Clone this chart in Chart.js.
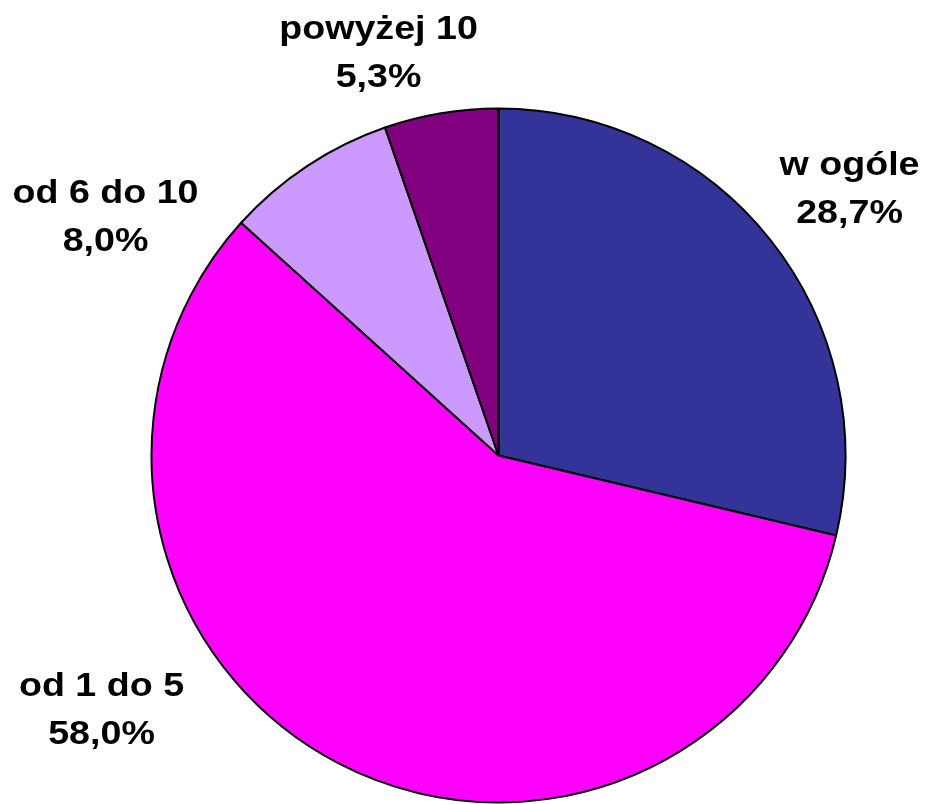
<!DOCTYPE html>
<html>
<head>
<meta charset="utf-8">
<script src="https://cdn.jsdelivr.net/npm/chart.js@4"></script>
<style>
  html, body { margin: 0; padding: 0; background: #fff; }
  canvas { display: block; }
</style>
</head>
<body>
<canvas id="pieChart" width="928" height="804"></canvas>
<script>
const categories = ['w ogóle', 'od 1 do 5', 'od 6 do 10', 'powyżej 10'];
const shares = [28.7, 58.0, 8.0, 5.3];
const colors = ['#333399', '#FF00FF', '#CC99FF', '#800080'];

// where Excel put each label, as offset of first baseline from pie centre
const labelOffsets = [[351, -281], [-397, 240], [-393, -253], [-120, -417]];

function pct(v){
  return v.toFixed(1).replace('.', ',') + '%';
}

const outsideLabels = {
  id: 'outsideLabels',
  afterDatasetsDraw(chart){
    const ctx = chart.ctx;
    const arc = chart.getDatasetMeta(0).data[0];
    ctx.save();
    ctx.fillStyle = '#000';
    ctx.font = 'bold 33px "Liberation Sans", Arial, sans-serif';
    ctx.textAlign = 'center';
    ctx.textBaseline = 'alphabetic';
    categories.forEach(function(name, i){
      const x = arc.x + labelOffsets[i][0];
      const y = arc.y + labelOffsets[i][1];
      [name, pct(shares[i])].forEach(function(line, j){
        ctx.save();
        ctx.translate(x, y + j * 48);
        ctx.scale(1.14, 1);
        ctx.fillText(line, 0, 0);
        ctx.restore();
      });
    });
    ctx.restore();
  }
};

const data = {
  labels: categories,
  datasets: [{
    data: shares,
    backgroundColor: colors,
    borderColor: '#000',
    borderWidth: 2
  }]
};

const config = {
  type: 'pie',
  data,
  options: {
    responsive: false,
    animation: false,
    radius: 347,
    layout: { padding: { left: 69, right: 0, top: 107, bottom: 0 } },
    plugins: {
      legend: { display: false },
      tooltip: { enabled: false }
    }
  },
  plugins: [outsideLabels]
};

var myChart = new Chart(document.getElementById('pieChart'), config);
</script>
</body>
</html>
